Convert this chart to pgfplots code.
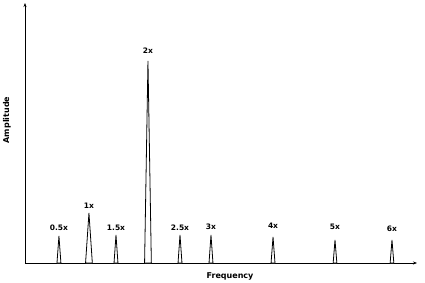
\documentclass[border=0pt]{standalone}
\usepackage{pgfplots}
\pgfplotsset{compat=1.18}
\usepackage{fontspec}
\setmainfont{DejaVu Sans}
\usetikzlibrary{arrows.meta}
\tikzset{
  peak/.style={draw=black, fill=white, line width=0.8pt},
  lab/.style={font=\fontsize{7.5}{8}\selectfont\bfseries, inner sep=0pt},
  alab/.style={font=\fontsize{8}{9}\selectfont\bfseries, inner sep=0pt},
}
\begin{document}
\begin{tikzpicture}[x=1pt,y=1pt]
\begin{axis}[
  scale only axis,
  width=392pt, height=260pt,
  xmin=-0.032, xmax=6.331,
  ymin=0, ymax=260,
  axis lines=left,
  axis line style={line width=0.6pt, -{Stealth[length=4pt,width=3pt]}},
  xtick=\empty, ytick=\empty,
  clip=false,
]
\addplot[peak] coordinates {(0.487,0)(0.519,27)(0.551,0)} -- cycle;
\addplot[peak] coordinates {(0.951,0)(1.006,50)(1.061,0)} -- cycle;
\addplot[peak] coordinates {(1.413,0)(1.445,28)(1.477,0)} -- cycle;
\addplot[peak] coordinates {(1.909,0)(1.964,202)(2.019,0)} -- cycle;
\addplot[peak] coordinates {(2.452,0)(2.484,28)(2.516,0)} -- cycle;
\addplot[peak] coordinates {(2.955,0)(2.987,28)(3.019,0)} -- cycle;
\addplot[peak] coordinates {(3.962,0)(3.994,26)(4.026,0)} -- cycle;
\addplot[peak] coordinates {(4.970,0)(5.000,23)(5.030,0)} -- cycle;
\addplot[peak] coordinates {(5.895,0)(5.925,23)(5.955,0)} -- cycle;
\node[lab] at (axis cs:0.519,35) {0.5x};
\node[lab] at (axis cs:1.006,57) {1x};
\node[lab] at (axis cs:1.445,35) {1.5x};
\node[lab] at (axis cs:1.964,212) {2x};
\node[lab] at (axis cs:2.484,35) {2.5x};
\node[lab] at (axis cs:2.987,36) {3x};
\node[lab] at (axis cs:3.994,37) {4x};
\node[lab] at (axis cs:5.000,36) {5x};
\node[lab] at (axis cs:5.925,34) {6x};
\node[alab] at ([yshift=-13pt]rel axis cs:0.523,0) {Frequency};
\node[alab, rotate=90] at ([xshift=-18pt]rel axis cs:0,0.55) {Amplitude};
\coordinate (bl) at (rel axis cs:0,0);
\coordinate (tr) at (rel axis cs:1,1);
\end{axis}
\pgfresetboundingbox
\path ([shift={(-25pt,-19pt)}]bl) rectangle ([shift={(8pt,3pt)}]tr);
\end{tikzpicture}
\end{document}
